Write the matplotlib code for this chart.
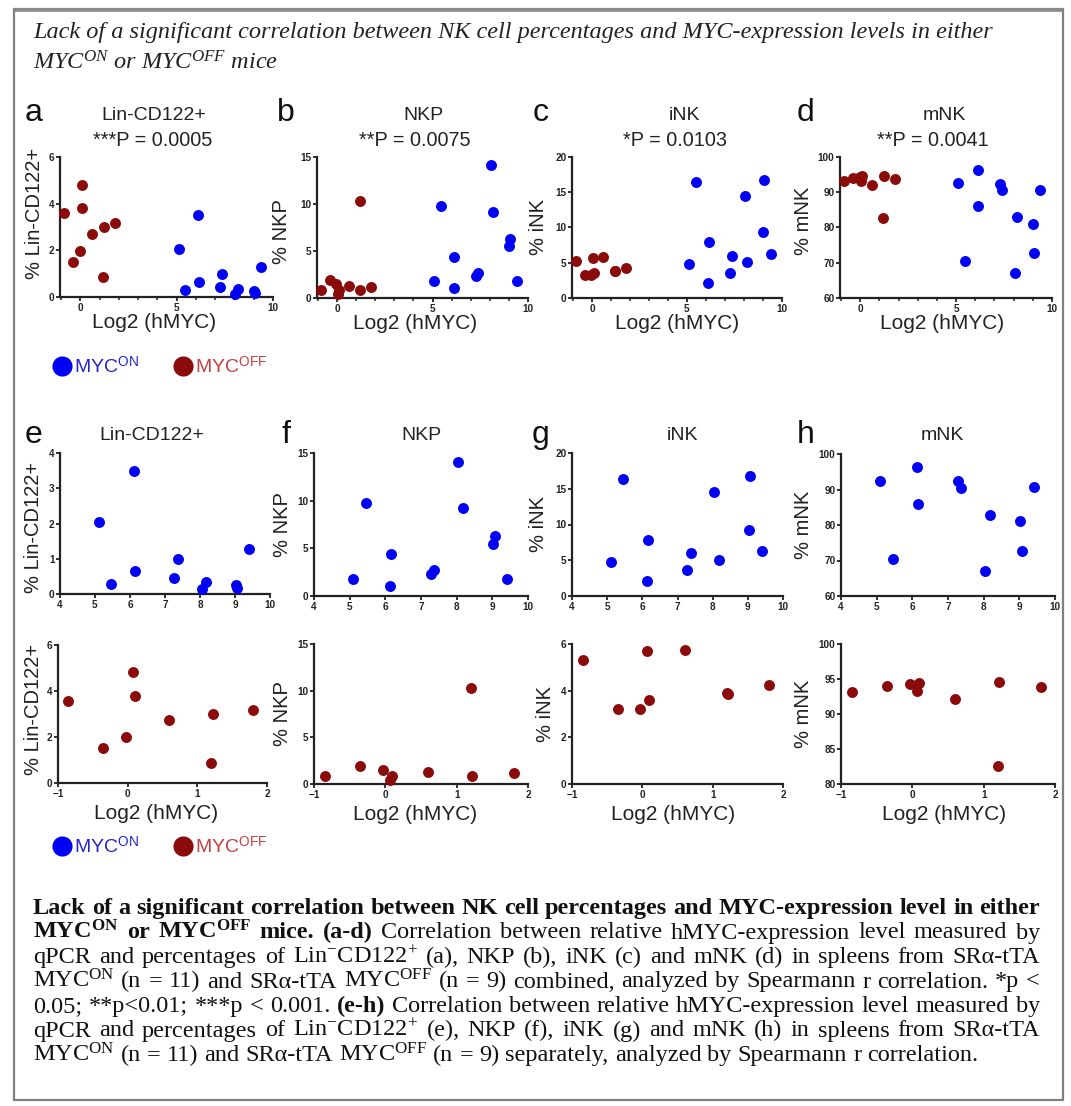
import matplotlib
matplotlib.use('Agg')
import matplotlib.pyplot as plt
from matplotlib.ticker import MultipleLocator
from matplotlib.patches import Rectangle

plt.rcParams['font.family'] = ['Liberation Sans', 'DejaVu Sans']
plt.rcParams['mathtext.fontset'] = 'custom'
plt.rcParams['mathtext.rm'] = 'Liberation Serif'
plt.rcParams['mathtext.it'] = 'Liberation Serif:italic'
plt.rcParams['mathtext.bf'] = 'Liberation Serif:bold'
plt.rcParams['mathtext.sf'] = 'Liberation Sans'

# ---------------- data ----------------
on_x = [5.10, 5.45, 6.12, 6.15, 7.27, 7.37, 8.05, 8.18, 9.02, 9.07, 9.40]
on_lin = [2.05, 0.28, 3.50, 0.65, 0.45, 1.00, 0.15, 0.35, 0.25, 0.18, 1.28]
on_nkp = [1.8, 9.8, 1.1, 4.4, 2.3, 2.7, 14.1, 9.2, 5.5, 6.3, 1.8]
on_ink = [4.8, 16.4, 2.1, 7.9, 3.6, 6.0, 14.5, 5.1, 9.3, 16.8, 6.3]
on_mnk = [92.5, 70.4, 96.2, 86.0, 92.3, 90.5, 67.0, 82.9, 81.0, 72.8, 90.6]

off_x = [-0.85, -0.35, -0.03, 0.07, 0.10, 0.60, 1.20, 1.22, 1.80]
off_lin = [3.58, 1.52, 1.98, 4.82, 3.80, 2.72, 0.85, 3.00, 3.18]
off_nkp = [0.9, 1.9, 1.5, 0.45, 0.9, 1.25, 10.3, 0.85, 1.15]
off_ink = [5.3, 3.2, 3.2, 5.7, 3.6, 5.75, 3.9, 3.85, 4.25]
off_mnk = [93.2, 94.0, 94.3, 93.3, 94.5, 92.1, 82.6, 94.6, 93.8]

populations = ['Lin-CD122+', 'NKP', 'iNK', 'mNK']
ylabels = ['% Lin-CD122+', '% NKP', '% iNK', '% mNK']
pvalues = ['***P = 0.0005', '**P = 0.0075', '*P = 0.0103', '**P = 0.0041']
letters_top = ['a', 'b', 'c', 'd']
letters_mid = ['e', 'f', 'g', 'h']

on_vals = [on_lin, on_nkp, on_ink, on_mnk]
off_vals = [off_lin, off_nkp, off_ink, off_mnk]

top_ylims = [(0, 6), (0, 15), (0, 20), (60, 100)]
top_ysteps = [2, 5, 5, 10]
mid_ylims = [(0, 4), (0, 15), (0, 20), (60, 100)]
mid_ysteps = [1, 5, 5, 10]
bot_ylims = [(0, 6), (0, 15), (0, 6), (80, 100)]
bot_ysteps = [2, 5, 2, 5]

BLUE = '#0000f5'
RED = '#8b0a0a'

W, H, DPI = 1071, 1106, 100
fig = plt.figure(figsize=(W / DPI, H / DPI), dpi=DPI)
fig.patch.set_facecolor('white')


def px_axes(l, t, r, b):
    return fig.add_axes([l / W, 1 - b / H, (r - l) / W, (b - t) / H])


def style(ax, rect, xlim, xstep, ylim, ystep, ylab, lab_dx, lab_y, xminor=None,
          xlab=False, xlab_top=0, xlab_dx=0):
    l, t, r, b = rect
    ax.set_xlim(*xlim)
    ax.set_ylim(*ylim)
    ax.xaxis.set_major_locator(MultipleLocator(xstep))
    ax.yaxis.set_major_locator(MultipleLocator(ystep))
    if xminor:
        ax.xaxis.set_minor_locator(MultipleLocator(xminor))
        ax.tick_params(axis='x', which='minor', length=2, width=1.1, color='#222')
    for s in ['top', 'right']:
        ax.spines[s].set_visible(False)
    for s in ['left', 'bottom']:
        ax.spines[s].set_linewidth(1.6)
        ax.spines[s].set_color('#222')
    ax.tick_params(which='major', direction='out', length=3, width=1.3, color='#222',
                   labelsize=7.2, labelcolor='#222', pad=1)
    for lbl in ax.get_xticklabels() + ax.get_yticklabels():
        lbl.set_fontweight('bold')
    ax.patch.set_alpha(0)
    ax.set_ylabel(ylab, fontsize=14.5, color='#222')
    ax.yaxis.set_label_coords(-lab_dx / (r - l), lab_y)
    if xlab:
        ax.set_xlabel('Log2 (hMYC)', fontsize=15, color='#222', va='top')
        ax.xaxis.set_label_coords(0.5 + xlab_dx / (r - l), -xlab_top / (b - t))


top_rects = [(60, 157, 273, 297), (317, 157, 528, 298), (572, 157, 782, 298), (840, 157, 1052, 298)]
mid_rects = [(60, 453, 270, 594), (314, 453, 528, 596), (572, 453, 783, 596), (841, 454, 1055, 596)]
bot_rects = [(58, 645, 267, 783), (314, 644, 528, 784), (572, 644, 783, 784), (841, 644, 1055, 784)]

top_labdx = [16, 26, 24, 27]
mid_labdx = [17, 22, 24, 28]
bot_labdx = [15, 22, 17, 28]
top_laby = [0.6, 0.47, 0.5, 0.55]
mid_laby = [0.47, 0.5, 0.5, 0.5]
bot_laby = [0.53, 0.5, 0.5, 0.5]
top_xlabdx = [-12, -7, 0, -4]
bot_xlabdx = [-6, -6, -4, -4]

for i in range(4):
    # top row: combined
    ax = px_axes(*top_rects[i])
    ax.scatter(off_x, off_vals[i], s=62, color=RED, clip_on=False, zorder=3, linewidths=0)
    ax.scatter(on_x, on_vals[i], s=62, color=BLUE, clip_on=False, zorder=3, linewidths=0)
    style(ax, top_rects[i], (-1.05, 10), 5, top_ylims[i], top_ysteps[i], ylabels[i],
          top_labdx[i], top_laby[i], xminor=1, xlab=True, xlab_top=16, xlab_dx=top_xlabdx[i])

    # middle row: MYC ON
    ax = px_axes(*mid_rects[i])
    ax.scatter(on_x, on_vals[i], s=62, color=BLUE, clip_on=False, zorder=3, linewidths=0)
    style(ax, mid_rects[i], (4, 10), 1, mid_ylims[i], mid_ysteps[i], ylabels[i],
          mid_labdx[i], mid_laby[i])

    # bottom row: MYC OFF
    ax = px_axes(*bot_rects[i])
    ax.scatter(off_x, off_vals[i], s=62, color=RED, clip_on=False, zorder=3, linewidths=0)
    style(ax, bot_rects[i], (-1, 2), 1, bot_ylims[i], bot_ysteps[i], ylabels[i],
          bot_labdx[i], bot_laby[i], xlab=True, xlab_top=21, xlab_dx=bot_xlabdx[i])

# overlay in pixel coordinates
ov = fig.add_axes([0, 0, 1, 1])
ov.set_xlim(0, W)
ov.set_ylim(H, 0)
ov.axis('off')
ov.patch.set_alpha(0)

ov.add_patch(Rectangle((14, 9), 1049, 1091, fill=False, edgecolor='#808080', linewidth=1.6))
ov.plot([14, 1063], [9.5, 9.5], color='#8a8a8a', linewidth=2.6, solid_capstyle='butt')

letter_x = [34, 285.5, 540.5, 805.5]
title_cx = [154, 423, 684, 944]
p_cx = [153, 415, 675, 933]
for i in range(4):
    ov.text(letter_x[i], 113, letters_top[i], fontsize=23, ha='center', va='center', color='#111')
    ov.text(title_cx[i], 115, populations[i], fontsize=14, ha='center', va='center', color='#222')
    ov.text(p_cx[i], 141, pvalues[i], fontsize=14.3, ha='center', va='center', color='#222')
    ov.text(letter_x[i], 435, letters_mid[i], fontsize=23, ha='center', va='center', color='#111')
    ov.text(title_cx[i] - 2, 436, populations[i], fontsize=14, ha='center', va='center', color='#222')

# legends
for ly in [366, 846]:
    ov.scatter([62], [ly], s=210, color=BLUE, linewidths=0)
    ov.text(74, ly, 'MYC$^{\\mathsf{ON}}$', fontsize=14, color='#2424c8', va='center', ha='left')
    ov.scatter([183], [ly], s=210, color=RED, linewidths=0)
    ov.text(195, ly, 'MYC$^{\\mathsf{OFF}}$', fontsize=14, color='#c04040', va='center', ha='left')

# title (italic serif)
ov.text(33, 38, 'Lack of a significant correlation between NK cell percentages and MYC-expression levels in either',
        fontsize=17.5, family='Liberation Serif', style='italic', color='#222', va='baseline')
ov.text(33, 70, 'MYC$^{\\mathit{ON}}$ or MYC$^{\\mathit{OFF}}$ mice',
        fontsize=17.5, family='Liberation Serif', style='italic', color='#222', va='baseline')

# caption, justified
renderer = fig.canvas.get_renderer()
B, R_ = True, False
cap_lines = [
    [(w, B) for w in 'Lack of a significant correlation between NK cell percentages and MYC-expression level in either'.split()],
    [('MYC$^{\\mathbf{ON}}$', B), ('or', B), ('MYC$^{\\mathbf{OFF}}$', B), ('mice.', B), ('(a-d)', B)]
    + [(w, R_) for w in 'Correlation between relative hMYC-expression level measured by'.split()],
    [(w, R_) for w in 'qPCR and percentages of'.split()] + [('Lin$^{-}$CD122$^{+}$', R_)]
    + [(w, R_) for w in '(a), NKP (b), iNK (c) and mNK (d) in spleens from SRα-tTA'.split()],
    [('MYC$^{\\mathrm{ON}}$', R_)] + [(w, R_) for w in '(n = 11) and SRα-tTA'.split()] + [('MYC$^{\\mathrm{OFF}}$', R_)]
    + [(w, R_) for w in '(n = 9) combined, analyzed by Spearmann r correlation. *p <'.split()],
    [(w, R_) for w in '0.05; **p<0.01; ***p < 0.001.'.split()] + [('(e-h)', B)]
    + [(w, R_) for w in 'Correlation between relative hMYC-expression level measured by'.split()],
    [(w, R_) for w in 'qPCR and percentages of'.split()] + [('Lin$^{-}$CD122$^{+}$', R_)]
    + [(w, R_) for w in '(e), NKP (f), iNK (g) and mNK (h) in spleens from SRα-tTA'.split()],
    [('MYC$^{\\mathrm{ON}}$', R_)] + [(w, R_) for w in '(n = 11) and SRα-tTA'.split()] + [('MYC$^{\\mathrm{OFF}}$', R_)]
    + [(w, R_) for w in '(n = 9) separately, analyzed by Spearmann r correlation.'.split()],
]
x0, x1 = 33, 1040
base_y = 914
all_texts = []
for li, words in enumerate(cap_lines):
    y = base_y + li * 24.5
    texts = []
    for w, bold in words:
        t = ov.text(0, y, w, fontsize=18, family='Liberation Serif',
                    fontweight='bold' if bold else 'normal', va='baseline', ha='left', color='#111')
        texts.append(t)
    all_texts.append(texts)

# choose the largest size for which every justified line still has a minimum word gap
cap_size = 18.0
while cap_size > 10:
    ok = True
    for texts in all_texts[:-1]:
        for t in texts:
            t.set_fontsize(cap_size)
        widths = [t.get_window_extent(renderer).width for t in texts]
        gap = (x1 - x0 - sum(widths)) / (len(texts) - 1)
        if gap < cap_size * 0.25 * DPI / 72:
            ok = False
            break
    if ok:
        break
    cap_size -= 0.25

for li, texts in enumerate(all_texts):
    for t in texts:
        t.set_fontsize(cap_size)
    widths = [t.get_window_extent(renderer).width for t in texts]
    if li < len(all_texts) - 1:
        gap = (x1 - x0 - sum(widths)) / (len(texts) - 1)
    else:
        gap = cap_size * 0.25 * DPI / 72
    x = x0
    for t, wd in zip(texts, widths):
        t.set_x(x)
        x += wd + gap

fig.savefig('out.png', dpi=DPI, facecolor='white')
